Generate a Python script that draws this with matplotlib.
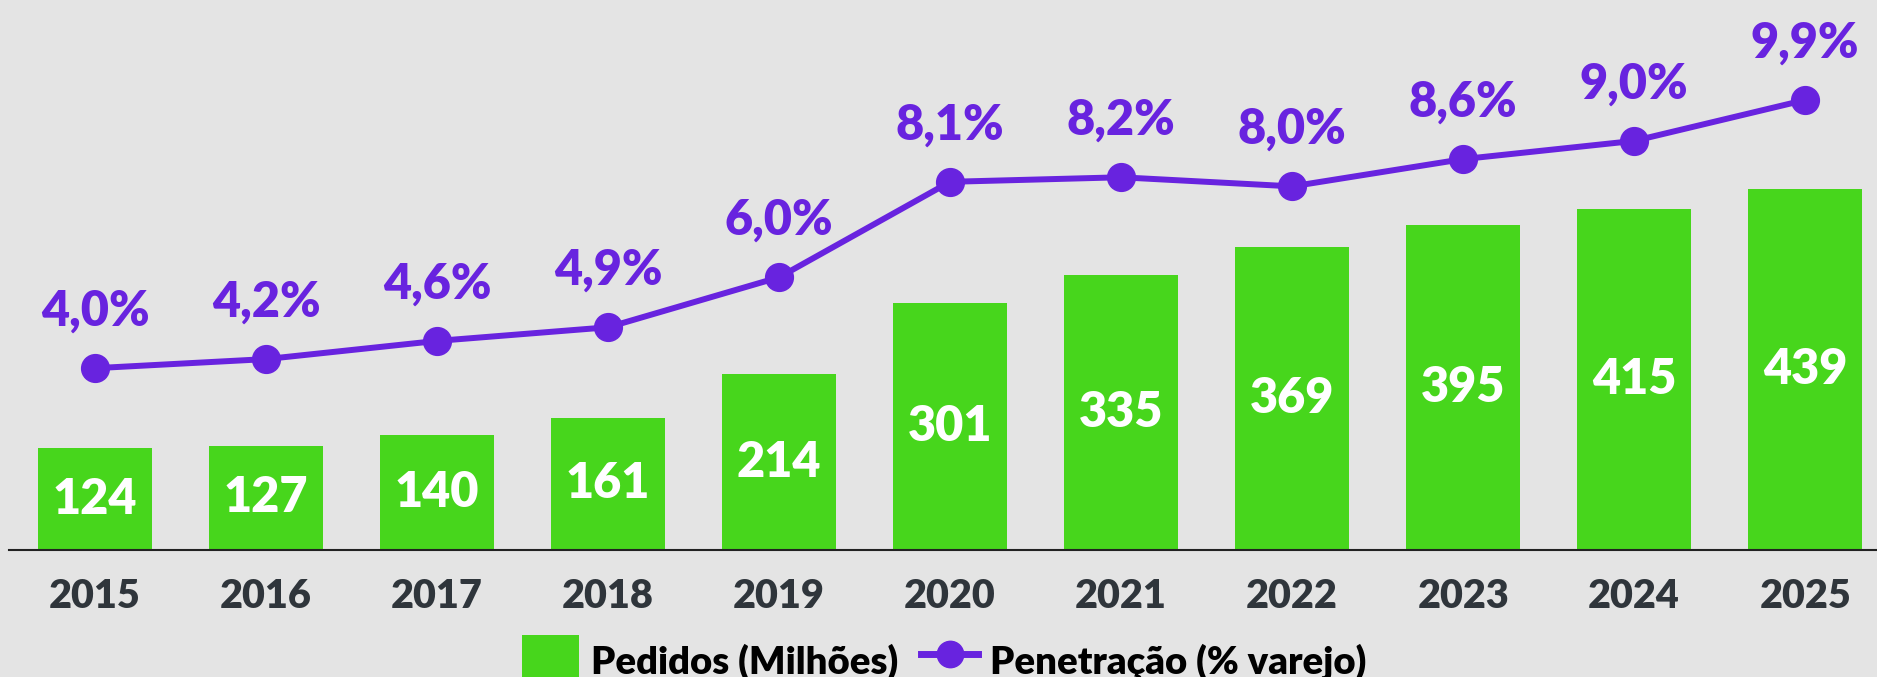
import matplotlib.pyplot as plt
from matplotlib.lines import Line2D
from matplotlib.patches import Patch

# === DATA ===
years = ["2015", "2016", "2017", "2018", "2019", "2020", "2021", "2022", "2023", "2024", "2025"]
pedidos = [124, 127, 140, 161, 214, 301, 335, 369, 395, 415, 439]
penetracao = [4.0, 4.2, 4.6, 4.9, 6.0, 8.1, 8.2, 8.0, 8.6, 9.0, 9.9]

# === STYLE ===
BG = "#e4e4e4"
GREEN = "#47d61c"
PURPLE = "#6823df"
YEAR_COLOR = "#2f353b"
plt.rcParams['font.family'] = ['Lato', 'DejaVu Sans']
plt.rcParams['font.weight'] = 'bold'

fig = plt.figure(figsize=(18.77, 6.77), dpi=100)
fig.patch.set_facecolor(BG)

# axes: bottom at the baseline (y=550 px from top), top at figure top
ax = fig.add_axes([9 / 1877, (677 - 550) / 677, 1 - 9 / 1877, 550 / 677])
ax.set_facecolor(BG)
ax2 = ax.twinx()

x = list(range(len(years)))
ax.bar(x, pedidos, width=0.667, color=GREEN, zorder=2)
for xi, v in zip(x, pedidos):
    ax.text(xi, v / 2, f"{v}", ha='center', va='center', color='white',
            fontsize=35, fontweight='heavy')

ax2.plot(x, penetracao, color=PURPLE, lw=4.3, marker='o', markersize=20, zorder=3)
for xi, p in zip(x, penetracao):
    ax2.annotate(f"{p:.1f}%".replace('.', ','), (xi, p), xytext=(0, 41),
                 textcoords='offset points', ha='center', va='center',
                 color=PURPLE, fontsize=35, fontweight='heavy')

ax.set_xlim(-0.503, 10.42)
ax.set_ylim(0, 669)
ax2.set_ylim(0, 12.1)

for a in (ax, ax2):
    for s in ('top', 'right', 'left'):
        a.spines[s].set_visible(False)
    a.set_yticks([])
ax.spines['bottom'].set_color('#222222')
ax.spines['bottom'].set_linewidth(1.5)
ax2.spines['bottom'].set_visible(False)

ax.set_xticks(x)
ax.set_xticklabels(years, fontsize=28.5, fontweight='heavy', color=YEAR_COLOR)
ax.tick_params(axis='x', length=0, pad=20)

handles = [
    Patch(facecolor=GREEN, label="Pedidos (Milhões)"),
    Line2D([0], [0], color=PURPLE, lw=5, marker='o', markersize=19,
           label="Penetração (% varejo)"),
]
fig.legend(handles=handles, loc='lower center', bbox_to_anchor=(0.503, -0.068),
           ncol=2, frameon=False, handlelength=1.5, handleheight=1.8,
           columnspacing=0.6, handletextpad=0.3,
           prop={'weight': 'heavy', 'size': 27.5})

fig.savefig("out.png", dpi=100, facecolor=BG)
